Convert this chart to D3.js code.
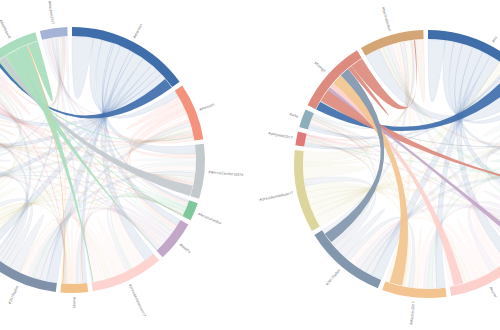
<!DOCTYPE html>
<html>
<head>
<meta charset="utf-8">
<script src="https://cdn.jsdelivr.net/npm/d3@7"></script>
<style>
  body { margin: 0; background: #fff; }
  svg { display: block; font-family: "Open Sans", sans-serif; }
</style>
</head>
<body>
<div id="chart"></div>
<script>
// left diagram: hashtags, highlighted one is "#dashboard"
const leftNames = ["#election", "#Amazon", "#BernieSanders2016", "#Amazonvideo", "#Netflix",
  "#presidentelection17", "#votes", "#2017ballot", "#trump", "#hillary", "#debate", "#news",
  "#dashboard", "#election2017"];
const leftColors = ["#3f6eab", "#f4927e", "#c3cace", "#80c79b", "#c3a7c9", "#fdd4cf", "#f3c28b",
  "#7f92a9", "#dcd69b", "#8eaeb9", "#d6a679", "#e07f7f", "#a9ddbd", "#a4b3d6"];
const leftMatrix = [
  [10, 4, 5, 1, 3, 5, 2, 5, 5, 3, 3, 3, 5, 0],
  [3, 3, 3, 1, 2, 3, 1, 2, 2, 1, 1, 1, 0.3, 1.7],
  [4, 2, 2, 1, 1, 2, 1, 2, 1, 1, 1, 1, 5, 0],
  [1, 1, 1, 0.5, 0.5, 1, 0.5, 1, 0.5, 0.2, 0.3, 0.2, 0.3, 0],
  [3, 2, 1, 0.5, 2, 2, 1, 2, 1, 1, 1, 1, 0.3, 0.2],
  [5, 4, 3, 1, 2, 4, 1, 3, 2, 2, 2, 2, 0.4, 0.6],
  [2, 1, 1, 0.5, 1, 1, 1, 1, 1, 0.5, 0.5, 0.5, 0.5, 0.5],
  [5, 3, 3, 1, 2, 3, 1, 5, 3, 2, 2, 2, 0, 1],
  [4, 3, 2, 1, 2, 3, 1, 3, 4, 2, 2, 2, 0, 1],
  [3, 2, 1, 0.5, 1, 2, 1, 2, 2, 2, 1, 1, 0, 1.5],
  [3, 2, 2, 0.5, 1, 2, 1, 2, 2, 1, 2, 1, 0, 0.5],
  [3, 2, 2, 1, 1, 2, 1, 2, 2, 1, 1, 3, 0, 1],
  [1.5, 1, 2.5, 0.5, 5, 6, 0.5, 0, 0, 0, 0, 0, 5, 0],
  [2, 1, 1, 0.5, 0.5, 1, 0.5, 1, 1, 1, 0.5, 0.5, 0, 1.5]
];
const leftFocus = "#dashboard";

// right diagram: highlighted one is "#foreign"
const rightNames = ["#eu", "#europe", "#uk", "#brexit", "#euref", "#election2017", "#2017ballot",
  "#presidentdebate17", "#polyseat2017", "#arte", "#foreign", "#berlinelection"];
const rightColors = ["#3f6eab", "#c3cace", "#80c79b", "#c3a7c9", "#fdd0cb", "#f3c48f", "#8296ad",
  "#ddd69c", "#e07a7a", "#8eaeb9", "#dd8b7e", "#d4a575"];
const rightMatrix = [
  [8, 4, 4, 5, 5, 4, 5, 4, 1, 2, 6, 8],
  [3, 4.5, 2, 2, 2, 2, 2, 2, 0.5, 0.5, 0.5, 1],
  [2, 2, 3, 2, 2, 2, 2, 2, 0.5, 0.5, 1, 3],
  [4, 2, 2, 3, 3, 2, 3, 2, 0.5, 1, 2.5, 3],
  [5, 3, 3, 3, 4, 3, 3, 2, 0.5, 1, 4.5, 2],
  [4, 2, 2, 2, 3, 2, 2, 2, 0.5, 0.5, 6, 2],
  [5, 3, 3, 3, 3, 3, 4, 3, 1, 1, 5, 2],
  [5, 3, 3, 3, 3, 3, 3, 6, 1, 1, 0, 5],
  [1, 0.5, 0.5, 0.5, 0.5, 0.5, 0.5, 0.5, 0.8, 0.2, 0, 0.5],
  [1.5, 0.5, 0.5, 1, 1, 0.5, 0.5, 0.5, 0.2, 0.8, 0, 1],
  [4, 0.5, 6, 1.5, 2.5, 5, 4.5, 0, 0, 0, 2, 6],
  [7, 2, 2, 2, 2, 2, 2, 3, 0.5, 1, 0.5, 4]
];
const rightFocus = "#foreign";

const width = 500, height = 330;

const svg = d3.select("#chart").append("svg")
  .attr("width", width)
  .attr("height", height)
  .attr("viewBox", [0, 0, width, height]);

function ChordDiagram(names, colors, matrix, focus, cx, cy, outer) {
  const inner = outer - 9;
  const color = d3.scaleOrdinal(names, colors);
  const chords = d3.chord().padAngle(0.035)(matrix);
  const arc = d3.arc().innerRadius(inner).outerRadius(outer);
  const ribbon = d3.ribbon().radius(inner - 0.5);
  const f = names.indexOf(focus);
  const isHot = d => d.source.index === f || d.target.index === f;

  const g = svg.append("g").attr("transform", `translate(${cx},${cy})`);

  // faded ribbons first, then the ones touching the hovered group
  g.append("g")
    .selectAll("path")
    .data(chords.filter(d => !isHot(d)))
    .join("path")
      .attr("d", ribbon)
      .attr("fill", d => color(names[d.source.index]))
      .attr("fill-opacity", 0.11)
      .attr("stroke", d => color(names[d.source.index]))
      .attr("stroke-opacity", 0.15)
      .attr("stroke-width", 0.5);

  g.append("g")
    .selectAll("path")
    .data(chords.filter(isHot))
    .join("path")
      .attr("d", ribbon)
      .attr("fill", d => color(names[d.source.index]))
      .attr("fill-opacity", 0.92);

  const group = g.append("g")
    .selectAll("g")
    .data(chords.groups)
    .join("g");

  group.append("path")
    .attr("d", arc)
    .attr("fill", d => color(names[d.index]));

  group.append("text")
    .each(d => { d.angle = (d.startAngle + d.endAngle) / 2; })
    .attr("dy", "0.35em")
    .attr("transform", d => `rotate(${d.angle * 180 / Math.PI - 90}) translate(${outer + 4})` +
      (d.angle > Math.PI ? " rotate(180)" : ""))
    .attr("text-anchor", d => d.angle > Math.PI ? "end" : null)
    .attr("font-size", 3.6)
    .attr("fill", "#666")
    .text(d => names[d.index]);
}

ChordDiagram(leftNames, leftColors, leftMatrix, leftFocus, 72, 160, 133);
ChordDiagram(rightNames, rightColors, rightMatrix, rightFocus, 428, 164, 134);
</script>
</body>
</html>
